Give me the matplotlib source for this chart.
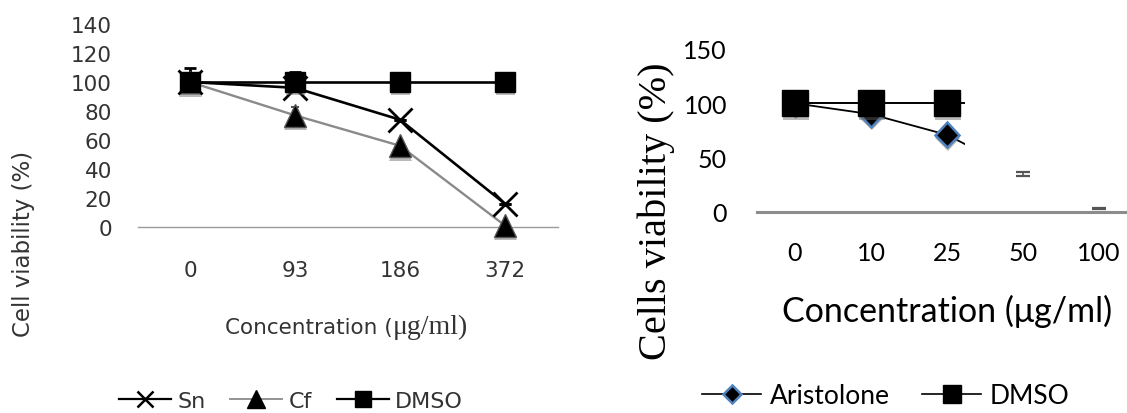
import numpy as np
import matplotlib
matplotlib.use("Agg")
import matplotlib.pyplot as plt
from matplotlib.lines import Line2D
from matplotlib.patches import Rectangle
import matplotlib.patheffects as pe

# ---------------- data ----------------
left_conc = ['0', '93', '186', '372']
sn_vals = [100, 96, 74, 16]
sn_err = [10, 11, 0, 0]
cf_vals = [100, 77, 56, 1]
cf_err = [0, 6, 0, 0]
dmso_left_vals = [100, 100, 100, 100]
left_yticks = [0, 20, 40, 60, 80, 100, 120, 140]

right_conc = ['0', '10', '25', '50', '100']
aris_vals = [100, 90, 71, 35, 3]
aris_err = [0, 0, 0, 1.5, 0.6]
dmso_right_vals = [100, 100, 100, 100, 100]
right_yticks = [0, 50, 100, 150]

W, H = 1127, 414
fig = plt.figure(figsize=(W / 100, H / 100), dpi=100)


def fx(px):
    return px / W


def fy(py):
    return 1 - py / H


shadow = [pe.SimplePatchShadow(offset=(0.6, -2.4), shadow_rgbFace='#666666', alpha=0.45),
          pe.Normal()]
TXT = '#333333'

# ---------------- left panel ----------------
axL = fig.add_axes([fx(137.5), fy(228), 420 / W, 203 / H])
xl = np.arange(len(left_conc)) + 0.5
axL.plot(xl, cf_vals, color='#8a8a8a', lw=1.7, zorder=2)
axL.plot(xl, sn_vals, color='black', lw=1.9, zorder=3)
axL.plot(xl, dmso_left_vals, color='black', lw=1.9, zorder=4)
axL.errorbar(xl, sn_vals, yerr=[[0] * len(sn_err), sn_err], fmt='none', ecolor='black',
             elinewidth=2.0, capsize=4, capthick=2.0, zorder=3, clip_on=False)
axL.errorbar(xl, cf_vals, yerr=[[0] * len(cf_err), cf_err], fmt='none', ecolor='#333333',
             elinewidth=1.2, capsize=3, capthick=1.2, zorder=2, clip_on=False)
axL.plot(xl, cf_vals, ls='none', marker='^', ms=16.5, mfc='black', mec='#555555', mew=1,
         path_effects=shadow, zorder=5, clip_on=False)
axL.plot(xl, sn_vals, ls='none', marker='x', ms=17, mew=2, color='black',
         path_effects=shadow, zorder=6, clip_on=False)
axL.plot(xl, dmso_left_vals, ls='none', marker='s', ms=13.7, mfc='black', mec='black',
         path_effects=shadow, zorder=7, clip_on=False)

axL.set_xlim(0, len(left_conc))
axL.set_ylim(0, 140)
axL.set_xticks(xl, left_conc)
axL.set_yticks(left_yticks)
axL.tick_params(axis='both', length=0, labelsize=15.5, labelcolor=TXT)
axL.tick_params(axis='x', pad=24)
axL.tick_params(axis='y', pad=18.4)
for s in ['top', 'right', 'left']:
    axL.spines[s].set_visible(False)
axL.spines['bottom'].set_color('#9a9a9a')
axL.spines['bottom'].set_linewidth(1.0)

fig.text(fx(24), fy(244), 'Cell viability (%)', rotation=90, ha='center', va='center',
         fontsize=16.5, color=TXT)

t1 = fig.text(fx(225), fy(334), 'Concentration (', fontsize=15.5, va='baseline', color=TXT)
fig.canvas.draw()
bb = t1.get_window_extent(renderer=fig.canvas.get_renderer())
fig.text(bb.x1 / W, fy(334), 'μg/ml)', family='Liberation Serif', fontsize=20,
         va='baseline', color=TXT)

hL = [Line2D([], [], color='black', lw=1.6, marker='x', ms=12, mew=1.8),
      Line2D([], [], color='#8a8a8a', lw=1.3, marker='^', ms=12.5, mfc='black', mec='black'),
      Line2D([], [], color='black', lw=1.6, marker='s', ms=11, mfc='black', mec='black')]
legL = fig.legend(hL, ['Sn', 'Cf', 'DMSO'], loc='center', bbox_to_anchor=(fx(291), fy(402)),
                  ncol=3, frameon=False, fontsize=16, handlelength=2.34, handletextpad=0.3,
                  columnspacing=1.1, borderpad=0, borderaxespad=0)
for t in legL.get_texts():
    t.set_color(TXT)

# ---------------- right panel ----------------
axR = fig.add_axes([fx(757), fy(213), 380 / W, 163 / H])
xr = np.arange(len(right_conc)) + 0.5
clip = Rectangle((-1, -100), 3.74, 400, transform=axR.transData)

axR.errorbar(xr, aris_vals, yerr=aris_err, fmt='none', ecolor='#555555', elinewidth=1.2,
             capsize=5, capthick=1.6, zorder=1, clip_on=False)
l1 = axR.plot(xr, aris_vals, color='black', lw=1.3, zorder=2)[0]
m1 = axR.plot(xr, aris_vals, ls='none', marker='D', ms=12.7, mfc='black', mec='#4f81bd',
              mew=1.8, path_effects=shadow, zorder=3)[0]
l2 = axR.plot(xr, dmso_right_vals, color='black', lw=1.4, zorder=4)[0]
m2 = axR.plot(xr, dmso_right_vals, ls='none', marker='s', ms=18.7, mfc='black', mec='black',
              path_effects=shadow, zorder=5)[0]
for art in (l1, m1, l2, m2):
    art.set_clip_path(clip)

axR.set_xlim(0, len(right_conc))
axR.set_ylim(0, 150)
axR.set_xticks(xr, right_conc)
axR.set_yticks(right_yticks)
axR.tick_params(axis='both', length=0, labelsize=18, labelcolor='black')
axR.tick_params(axis='x', pad=21)
axR.tick_params(axis='y', pad=21.6)
for lbl in axR.get_xticklabels() + axR.get_yticklabels():
    lbl.set_fontfamily('Lato')
for s in ['top', 'right', 'left']:
    axR.spines[s].set_visible(False)
axR.spines['bottom'].set_color('#8c8c8c')
axR.spines['bottom'].set_linewidth(2.2)

fig.text(fx(656), fy(211), 'Cells viability (%)', rotation=90, ha='center', va='center',
         family='Liberation Serif', fontsize=29, color='black')
fig.text(fx(947.5), fy(322), 'Concentration (μg/ml)', ha='center', va='baseline',
         family='Lato', fontsize=24.5, color='black')

hR = [Line2D([], [], color='black', lw=1.2, marker='D', ms=9.2, mfc='black', mec='#4f81bd', mew=1.8),
      Line2D([], [], color='black', lw=1.2, marker='s', ms=13.5, mfc='black', mec='black')]
fig.legend(hR, ['Aristolone', 'DMSO'], loc='center', bbox_to_anchor=(fx(886), fy(397)),
           ncol=2, frameon=False, prop={'family': 'Lato', 'size': 19}, handlelength=2.24,
           handletextpad=0.34, columnspacing=1.2, borderpad=0, borderaxespad=0)

fig.savefig('out.png', dpi=100)
